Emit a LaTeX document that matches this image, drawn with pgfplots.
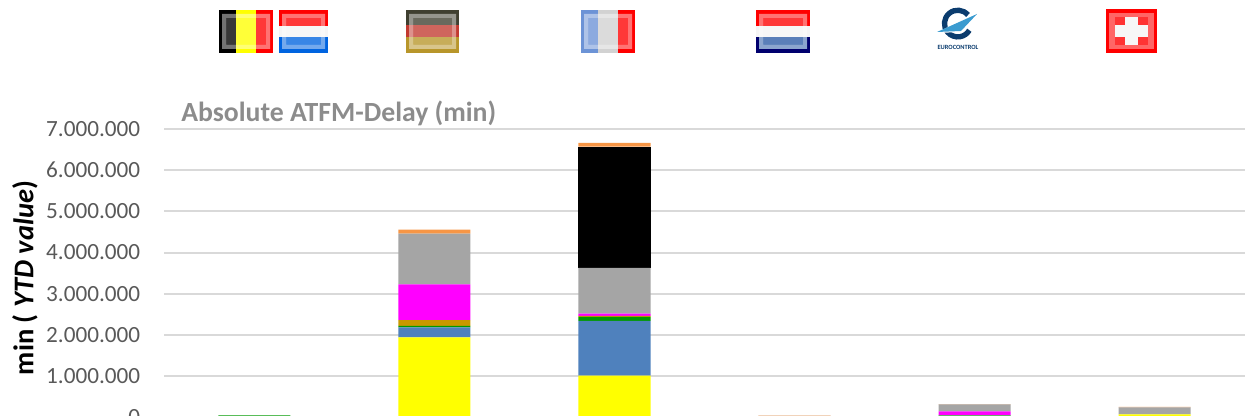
\documentclass[border=0pt]{standalone}
\usepackage{pgfplots}
\pgfplotsset{compat=1.18}
\usepackage{fontspec}
\setmainfont{Carlito}
\definecolor{gridc}{HTML}{D9D9D9}
\definecolor{tickc}{HTML}{595959}
\definecolor{titlec}{HTML}{8C8C8C}
\definecolor{cblue}{HTML}{4F81BD}
\definecolor{cgreen}{HTML}{009900}
\definecolor{cbrown}{HTML}{C89800}
\definecolor{cgray}{HTML}{A5A5A5}
\definecolor{corange}{HTML}{F79646}
\definecolor{cyel}{HTML}{FFFF00}
\definecolor{cmag}{HTML}{FF00FF}
\definecolor{cred}{HTML}{FF0000}
\definecolor{gdark}{HTML}{3F3F30}
\definecolor{gred}{HTML}{C23A30}
\definecolor{ggold}{HTML}{B8962A}
\definecolor{lblue}{HTML}{0064E0}
\definecolor{nnavy}{HTML}{00006E}
\definecolor{nblue}{HTML}{2C5CA6}
\definecolor{fblue}{HTML}{6C93D6}
\definecolor{fwhite}{HTML}{D2D2D2}
\definecolor{ecnavy}{HTML}{0B3C6E}
\definecolor{ecblue}{HTML}{3A9BD0}
\pgfplotsset{
  seg/.style={fill=#1,draw=none,bar width=54pt},
}
\newcommand{\flagbox}[2]{%
  \fill[white,opacity=.45,even odd rule] ({#1+3},14) rectangle ({#2-3},49) ({#1+7},18) rectangle ({#2-7},45);
  \fill[white,opacity=.22] ({#1+7},18) rectangle ({#2-7},45);
}
\begin{document}
\begin{tikzpicture}
\path[use as bounding box] (0pt,0pt) rectangle (935.25pt,312pt);
\begin{axis}[
  at={(123.375pt,-0.9pt)}, anchor=south west,
  scale only axis, width=810pt, height=216.15pt,
  clip=false,
  ybar stacked,
  xmin=-0.5, xmax=5.5, ymin=0, ymax=7000000,
  xtick=\empty,
  scaled y ticks=false,
  ytick={0,1000000,2000000,3000000,4000000,5000000,6000000,7000000},
  yticklabels={0,1.000.000,2.000.000,3.000.000,4.000.000,5.000.000,6.000.000,7.000.000},
  axis line style={draw=none},
  tick style={draw=none},
  ymajorgrids, grid style={gridc,line width=1.5pt},
  yticklabel style={font=\fontsize{17.4}{17.4}\selectfont,text=tickc,inner sep=0pt,xshift=-18pt},
]
\addplot[seg=cyel] coordinates {(0,0)(1,1940000)(2,1008000)(3,0)(4,30000)(5,70000)};
\addplot[seg=cblue] coordinates {(0,0)(1,243000)(2,1329000)(3,0)(4,10000)(5,0)};
\addplot[seg=cgreen] coordinates {(0,45000)(1,37000)(2,97000)(3,0)(4,10000)(5,0)};
\addplot[seg=cbrown] coordinates {(0,0)(1,140000)(2,26000)(3,0)(4,0)(5,0)};
\addplot[seg=cmag] coordinates {(0,0)(1,868000)(2,55000)(3,0)(4,90000)(5,0)};
\addplot[seg=cgray] coordinates {(0,0)(1,1229000)(2,1109000)(3,30000)(4,170000)(5,170000)};
\addplot[seg=black] coordinates {(0,0)(1,0)(2,2946000)(3,0)(4,0)(5,0)};
\addplot[seg=corange] coordinates {(0,0)(1,98000)(2,90000)(3,10000)(4,10000)(5,10000)};
\end{axis}
% one unit = one reference pixel, y measured downward from the top of the image
\begin{scope}[x=0.75pt,y=-0.75pt,yshift=312pt]
\node[rotate=90,font=\fontsize{21.4}{21.4}\selectfont\bfseries,text=black,anchor=center] at (25,278) {min ( \textit{YTD value})};
\node[font=\fontsize{20.8}{20.8}\selectfont\bfseries,text=titlec,anchor=west,inner sep=0pt] at (181,113) {Absolute ATFM-Delay (min)};
% Belgium
\fill[black] (219,10) rectangle (236,53);
\fill[cyel] (236,10) rectangle (256,53);
\fill[cred] (256,10) rectangle (273,53);
\flagbox{219}{273}
% Luxembourg
\fill[cred] (279,10) rectangle (328,26);
\fill[white!96!black] (279,26) rectangle (328,37);
\fill[lblue] (279,37) rectangle (328,53);
\flagbox{279}{328}
% Germany
\fill[gdark] (406,10) rectangle (459,25);
\fill[gred] (406,25) rectangle (459,37);
\fill[ggold] (406,37) rectangle (459,53);
\flagbox{406}{459}
% France
\fill[fblue] (581,10) rectangle (598,53);
\fill[fwhite] (598,10) rectangle (618,53);
\fill[cred] (618,10) rectangle (635,53);
\flagbox{581}{635}
% Netherlands
\fill[cred] (756,10) rectangle (810,26);
\fill[white!96!black] (756,26) rectangle (810,37);
\fill[nnavy] (756,37) rectangle (810,53);
\fill[nblue] (759,37) rectangle (807,49);
\flagbox{756}{810}
% Switzerland
\fill[cred] (1106,9) rectangle (1157,53);
\fill[white,opacity=.40] (1109,13) rectangle (1154,49);
\fill[cred!80!white] (1115,17) rectangle (1148,45);
\fill[white!97!black] (1125,17) rectangle (1138,45);
\fill[white!97!black] (1115,25) rectangle (1148,37);
% EUROCONTROL logo
\draw[line width=4pt,color=ecnavy] (968,15) arc[start angle=40,end angle=330,radius=10pt];
\fill[white] (936,33) -- (977,13) -- (962,32) -- cycle;
\fill[ecblue] (937,32) -- (977,14) -- (961,31) -- cycle;
\node[font=\fontsize{4.8}{4.8}\selectfont\bfseries,text=ecnavy,inner sep=0pt] at (958,47.5) {EUROCONTROL};
\end{scope}
\end{tikzpicture}
\end{document}
